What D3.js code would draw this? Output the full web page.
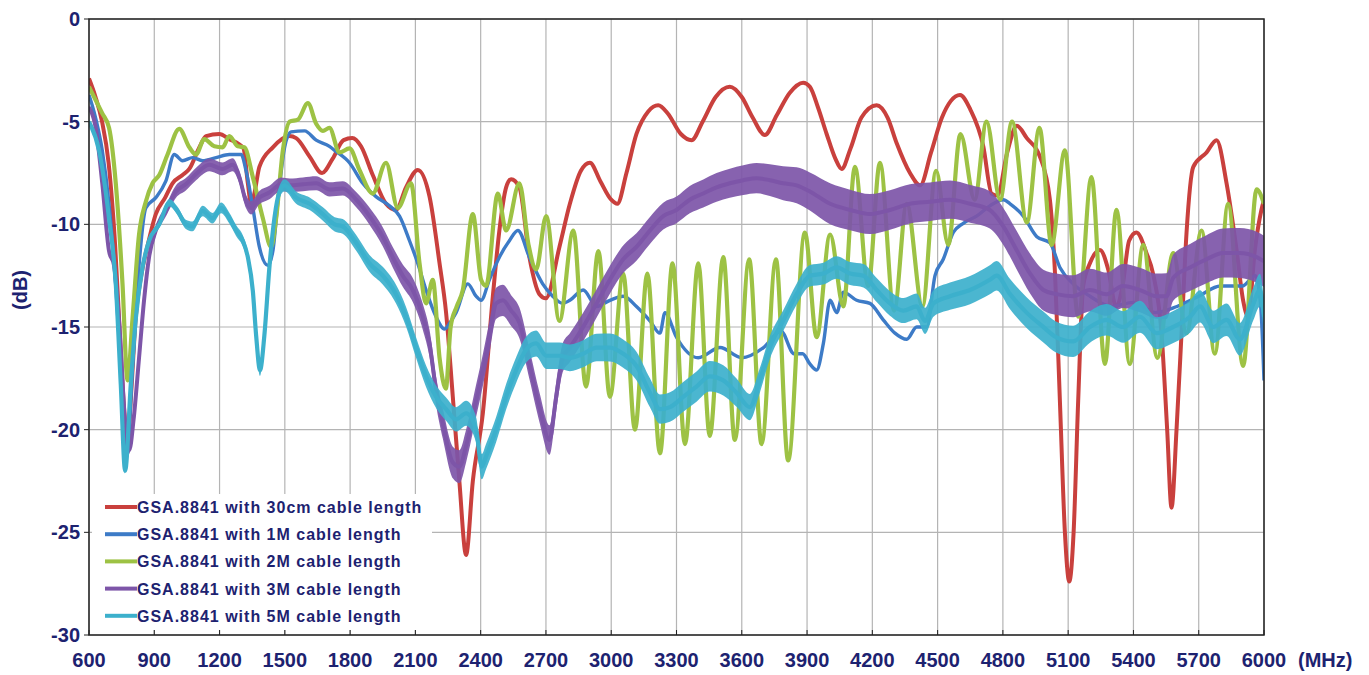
<!DOCTYPE html>
<html><head><meta charset="utf-8">
<script src="https://cdn.jsdelivr.net/npm/d3@7"></script>
<style>body{margin:0;background:#fff}svg{display:block}</style>
</head><body><svg id="c" width="1369" height="675"></svg>
<script>
// ---- data ----
const xTickLabels = [600,900,1200,1500,1800,2100,2400,2700,3000,3300,3600,3900,4200,4500,4800,5100,5400,5700,6000];
const yTickLabels = [0,-5,-10,-15,-20,-25,-30];
const seriesNames = ["GSA.8841 with 30cm cable length","GSA.8841 with 1M cable length","GSA.8841 with 2M cable length","GSA.8841 with 3M cable length","GSA.8841 with 5M cable length"];

const red30cm = [[600,-2.9],[630,-3.8],[660,-5.0],[690,-7.0],[720,-11],[745,-16],[765,-19.5],[778,-20.5],[795,-18],[815,-14.5],[840,-12.5],[870,-11],[907,-9.5],[950,-8.7],[984,-8.0],[1030,-7.6],[1061,-7.3],[1107,-6.25],[1138,-5.7],[1199,-5.6],[1245,-5.85],[1290,-6.1],[1310,-6.3],[1330,-8.0],[1345,-9.0],[1360,-8.5],[1383,-7.2],[1445,-6.25],[1521,-5.7],[1552,-5.8],[1614,-6.7],[1671,-7.5],[1720,-6.8],[1770,-5.9],[1810,-5.8],[1850,-6.2],[1904,-7.6],[1965,-9.0],[2011,-9.3],[2057,-8.2],[2111,-7.35],[2165,-8.65],[2211,-11.9],[2241,-14.3],[2272,-18.4],[2302,-22.5],[2333,-26.1],[2364,-22.5],[2410,-19.2],[2456,-13.5],[2486,-10.3],[2517,-8.2],[2540,-7.8],[2578,-8.2],[2624,-11.6],[2670,-13.4],[2700,-13.6],[2762,-11.1],[2810,-9.0],[2860,-7.4],[2902,-7.0],[2950,-7.9],[3000,-8.8],[3028,-9.0],[3070,-7.5],[3116,-5.6],[3170,-4.5],[3216,-4.2],[3260,-4.6],[3320,-5.6],[3369,-5.9],[3420,-5.0],[3480,-3.8],[3545,-3.3],[3600,-3.8],[3650,-4.8],[3706,-5.65],[3760,-4.7],[3820,-3.6],[3882,-3.1],[3913,-3.3],[3950,-4.3],[3990,-5.6],[4030,-6.8],[4059,-7.3],[4100,-6.3],[4150,-4.8],[4220,-4.2],[4270,-4.8],[4312,-6.05],[4373,-7.5],[4420,-8.1],[4470,-6.5],[4520,-4.8],[4560,-4.0],[4603,-3.7],[4650,-4.4],[4710,-6.2],[4748,-8.5],[4775,-8.6],[4820,-6.5],[4864,-5.2],[4910,-5.8],[4970,-6.7],[5016,-8.8],[5040,-12.5],[5062,-18.6],[5085,-25],[5105,-27.4],[5125,-25],[5146,-18.6],[5169,-13.0],[5200,-11.9],[5246,-11.25],[5284,-12.2],[5320,-14.0],[5350,-13.0],[5380,-10.8],[5414,-10.4],[5460,-11.4],[5490,-12.4],[5529,-15.3],[5555,-20],[5575,-23.8],[5598,-20],[5621,-15.3],[5644,-10.4],[5675,-7.2],[5736,-6.5],[5782,-5.9],[5828,-8.0],[5874,-11.25],[5904,-13.7],[5927,-14.5],[5958,-11.25],[5988,-9.3],[6000,-8.8]];

const blue1M = [[600,-3.7],[630,-4.8],[661,-6.4],[692,-9.0],[723,-13],[750,-17.5],[775,-21.0],[800,-17],[830,-12],[861,-9.2],[907,-8.7],[953,-7.9],[992,-6.6],[1030,-6.9],[1076,-6.75],[1122,-6.9],[1184,-6.75],[1245,-6.6],[1299,-6.6],[1322,-7.4],[1353,-9.2],[1383,-11.1],[1422,-12.0],[1445,-11.3],[1468,-8.9],[1499,-6.25],[1529,-5.5],[1591,-5.45],[1644,-5.9],[1705,-6.2],[1729,-6.4],[1797,-7.0],[1858,-8.0],[1919,-8.65],[1981,-9.1],[2027,-9.6],[2073,-10.8],[2111,-11.9],[2149,-13.2],[2195,-14.5],[2234,-15.1],[2264,-14.7],[2287,-14.3],[2341,-12.9],[2379,-13.5],[2402,-13.7],[2440,-12.7],[2486,-11.6],[2532,-10.8],[2571,-10.3],[2624,-11.6],[2685,-12.9],[2731,-13.5],[2777,-13.85],[2810,-13.7],[2871,-13.2],[2933,-14.0],[2994,-13.7],[3055,-13.5],[3116,-14.0],[3178,-14.7],[3224,-15.3],[3247,-14.3],[3300,-15.5],[3400,-16.5],[3500,-16.0],[3600,-16.5],[3700,-16.0],[3780,-15.2],[3840,-16.3],[3880,-16.3],[3913,-16.8],[3944,-17.1],[3975,-15.8],[4006,-13.7],[4036,-14.3],[4067,-13.3],[4128,-13.7],[4189,-13.85],[4250,-14.65],[4304,-15.3],[4358,-15.6],[4404,-15.0],[4450,-15.0],[4488,-12.5],[4526,-11.7],[4572,-10.4],[4618,-9.95],[4679,-9.6],[4740,-9.1],[4802,-8.8],[4833,-9.0],[4894,-9.6],[4956,-10.6],[5016,-10.9],[5062,-12.1],[5123,-12.9],[5200,-13.5],[5300,-14.0],[5400,-13.8],[5500,-14.3],[5600,-14.0],[5700,-13.5],[5800,-13.0],[5900,-13.0],[5960,-12.5],[5985,-14.0],[6000,-17.6]];

const green2M = [[600,-3.3],[661,-4.6],[692,-5.3],[723,-8.0],[754,-12.9],[777,-17.6],[800,-14.6],[830,-10.5],[861,-8.9],[892,-8.0],[923,-7.6],[961,-6.6],[1015,-5.35],[1061,-6.25],[1092,-6.6],[1130,-5.85],[1176,-6.2],[1214,-6.25],[1245,-5.7],[1284,-6.2],[1314,-6.25],[1353,-7.7],[1399,-9.7],[1437,-11.1],[1460,-9.7],[1491,-6.4],[1522,-5.0],[1560,-4.9],[1606,-4.1],[1644,-5.1],[1675,-5.45],[1705,-5.3],[1751,-6.5],[1797,-6.3],[1843,-7.35],[1904,-8.5],[1965,-7.0],[2019,-9.2],[2080,-8.0],[2119,-11.9],[2149,-13.85],[2180,-12.7],[2211,-16.5],[2240,-18.0],[2262,-15],[2290,-14.0],[2318,-13.2],[2364,-9.5],[2402,-12.7],[2425,-13.0],[2479,-8.5],[2517,-10.3],[2578,-8.0],[2620,-11.0],[2655,-12.2],[2701,-9.6],[2762,-14.7],[2826,-10.3],[2884,-17.9],[2941,-11.3],[2994,-18.4],[3055,-12.4],[3109,-20.0],[3166,-12.4],[3224,-21.15],[3282,-11.9],[3339,-20.7],[3400,-11.9],[3453,-20.3],[3515,-11.6],[3568,-20.5],[3634,-11.7],[3691,-20.7],[3757,-11.7],[3813,-21.5],[3890,-10.4],[3944,-15.5],[4006,-10.5],[4067,-14.0],[4120,-7.2],[4181,-13.0],[4235,-7.0],[4300,-14.2],[4358,-9.0],[4430,-14.0],[4493,-7.4],[4549,-11.0],[4605,-5.6],[4670,-8.8],[4725,-5.0],[4787,-8.8],[4842,-5.0],[4910,-9.9],[4968,-5.3],[5024,-11.0],[5085,-6.4],[5146,-14.5],[5207,-7.7],[5269,-16.8],[5322,-9.3],[5383,-16.8],[5445,-11.0],[5510,-16.5],[5583,-11.4],[5644,-15.3],[5713,-10.3],[5774,-16.3],[5835,-9.0],[5904,-16.9],[5966,-8.3],[6000,-9.0]];

const purple3M = [[600,-4.3],[631,-5.3],[661,-8.0],[692,-11.3],[715,-12.0],[740,-15],[765,-19.5],[785,-21],[805,-19.5],[830,-16.5],[853,-13.7],[876,-11.6],[907,-10.3],[953,-9.35],[1000,-8.4],[1045,-8.05],[1092,-7.55],[1153,-7.1],[1214,-7.3],[1260,-7.1],[1291,-7.7],[1322,-8.9],[1345,-9.2],[1383,-8.7],[1429,-8.45],[1483,-8.05],[1522,-8.1],[1583,-8.05],[1644,-8.0],[1706,-8.3],[1766,-8.25],[1828,-8.8],[1889,-9.6],[1950,-10.6],[1996,-11.6],[2042,-12.5],[2088,-13.2],[2134,-14.5],[2165,-15.8],[2195,-18.1],[2226,-19.7],[2272,-21.6],[2302,-21.8],[2333,-20.8],[2379,-18.6],[2410,-17.1],[2440,-15.5],[2471,-13.85],[2502,-13.7],[2540,-14.2],[2578,-14.8],[2624,-16.8],[2670,-18.9],[2716,-20.5],[2747,-18.4],[2777,-16.5],[2810,-16.0],[2871,-15.0],[2933,-13.85],[2994,-12.7],[3055,-11.7],[3116,-11.1],[3178,-10.3],[3239,-9.6],[3300,-9.3],[3361,-8.8],[3423,-8.5],[3484,-8.2],[3545,-8.0],[3607,-7.85],[3668,-7.75],[3729,-7.85],[3790,-8.0],[3852,-8.1],[3913,-8.4],[4006,-9.0],[4098,-9.3],[4189,-9.5],[4281,-9.3],[4373,-9.0],[4465,-8.9],[4557,-8.8],[4649,-9.0],[4740,-9.3],[4802,-10.1],[4863,-11.25],[4925,-12.4],[4986,-13.2],[5046,-13.4],[5123,-13.5],[5200,-13.2],[5276,-13.4],[5353,-13.0],[5430,-13.2],[5506,-13.5],[5552,-13.5],[5583,-12.6],[5660,-12.1],[5736,-11.7],[5812,-11.4],[5889,-11.4],[5966,-11.6],[6000,-11.8]];

const cyan5M = [[600,-5.0],[646,-6.4],[692,-9.7],[723,-12.9],[746,-17.8],[766,-22.0],[792,-17.8],[815,-14.6],[846,-12.1],[876,-10.8],[923,-10.0],[969,-8.95],[1007,-9.35],[1045,-10.0],[1076,-10.1],[1122,-9.35],[1168,-9.7],[1207,-9.2],[1245,-9.7],[1276,-10.3],[1307,-10.8],[1330,-11.6],[1353,-13.25],[1368,-15.4],[1386,-17.1],[1406,-15.4],[1429,-12.1],[1452,-9.7],[1476,-8.4],[1499,-8.1],[1552,-8.7],[1614,-9.0],[1675,-9.5],[1729,-10.0],[1766,-10.1],[1828,-10.9],[1889,-11.9],[1950,-12.5],[2011,-13.4],[2057,-14.5],[2103,-16.0],[2149,-17.4],[2195,-18.4],[2241,-19.0],[2287,-19.5],[2333,-19.2],[2379,-20.0],[2405,-21.8],[2425,-21.3],[2471,-20.0],[2517,-18.4],[2563,-17.1],[2609,-16.1],[2655,-15.8],[2701,-16.4],[2762,-16.4],[2810,-16.5],[2871,-16.3],[2933,-16.0],[2994,-16.0],[3055,-16.3],[3116,-16.9],[3178,-18.2],[3224,-19.0],[3270,-18.9],[3331,-18.4],[3392,-17.9],[3453,-17.4],[3515,-17.6],[3576,-18.2],[3637,-18.9],[3683,-17.6],[3729,-16.0],[3790,-14.7],[3852,-13.4],[3913,-12.5],[3975,-12.4],[4036,-12.1],[4098,-12.4],[4159,-12.5],[4220,-13.2],[4281,-13.85],[4343,-14.2],[4404,-14.0],[4442,-14.7],[4481,-13.85],[4557,-13.5],[4649,-13.2],[4740,-12.7],[4771,-12.5],[4833,-13.4],[4909,-14.3],[4986,-15.0],[5046,-15.5],[5123,-15.7],[5200,-15.0],[5276,-14.65],[5353,-15.0],[5430,-14.5],[5506,-15.3],[5583,-15.0],[5660,-14.5],[5706,-14.0],[5767,-15.0],[5828,-14.65],[5889,-15.6],[5950,-13.9],[5981,-13.2],[6000,-14.5]];

// peak-to-peak ripple (dB) of the fast oscillation on the 3M and 5M traces
const purpleRipple = [[600,0.2],[850,0.4],[1000,0.6],[1800,0.7],[2000,1.0],[2300,1.6],[2800,1.4],[3300,1.3],[3700,1.5],[4000,2.0],[4800,1.8],[5000,2.0],[5500,2.2],[6000,2.5]];
const cyanRipple = [[600,0.2],[900,0.3],[1100,0.5],[1600,0.6],[2000,0.9],[2300,1.2],[2800,1.3],[3500,1.5],[3800,1.0],[4300,1.2],[4900,1.5],[6000,1.6]];

const colors = ["#c9403d","#3d7bc7","#9dc244","#7d55a8","#3cb0cc"];

// ---- chart ----
const svg = d3.select("#c");
const W = 1369, H = 675;
const m = {l:89, r:1264, t:19, b:635};
const x = d3.scaleLinear().domain([600,6000]).range([m.l, m.r]);
const y = d3.scaleLinear().domain([-30,0]).range([m.b, m.t]);
const txtCol = "#1d2270";
const fontFam = "'Liberation Sans', Arial, sans-serif";

svg.append("rect").attr("width",W).attr("height",H).attr("fill","#fff");

// grid
const grid = svg.append("g");
grid.selectAll(".gx").data(xTickLabels).join("line")
  .attr("x1",d=>x(d)).attr("x2",d=>x(d)).attr("y1",m.t).attr("y2",m.b)
  .attr("stroke","#b4b4b4").attr("stroke-width",1.2);
grid.selectAll(".gy").data(yTickLabels).join("line")
  .attr("x1",m.l).attr("x2",m.r).attr("y1",d=>y(d)).attr("y2",d=>y(d))
  .attr("stroke","#b4b4b4").attr("stroke-width",1.2);

function interp(arr, f){
  for (let i=1;i<arr.length;i++){
    if (f<=arr[i][0]){const a=arr[i-1],b=arr[i];return a[1]+(b[1]-a[1])*(f-a[0])/(b[0]-a[0]);}
  }
  return arr[arr.length-1][1];
}

const clip = svg.append("clipPath").attr("id","pc").append("rect")
  .attr("x",m.l).attr("y",m.t).attr("width",m.r-m.l).attr("height",m.b-m.t);
const plot = svg.append("g").attr("clip-path","url(#pc)");
const line = d3.line().x(d=>x(d[0])).y(d=>y(d[1])).curve(d3.curveMonotoneX);
const band = (rip)=>d3.area().x(d=>x(d[0]))
  .y0(d=>y(d[1]-interp(rip,d[0])/2)).y1(d=>y(d[1]+interp(rip,d[0])/2)).curve(d3.curveMonotoneX);

const allSeries = [red30cm, blue1M, green2M, purple3M, cyan5M];
const widths = [4, 3.4, 4.2, 4, 4.2];
allSeries.forEach((s,i)=>{
  if (i===3) plot.append("path").datum(s).attr("d",band(purpleRipple)).attr("fill",colors[i]).attr("opacity",0.92);
  if (i===4) plot.append("path").datum(s).attr("d",band(cyanRipple)).attr("fill",colors[i]).attr("opacity",0.92);
  plot.append("path").datum(s).attr("d",line).attr("fill","none")
    .attr("stroke",colors[i]).attr("stroke-width",widths[i]).attr("stroke-linejoin","round");
});

// legend
const lg = svg.append("g");
lg.append("rect").attr("x",92).attr("y",494).attr("width",340).attr("height",136).attr("fill","#fff");
seriesNames.forEach((n,i)=>{
  const yy = 507 + i*27.2;
  lg.append("line").attr("x1",105).attr("x2",137).attr("y1",yy).attr("y2",yy)
    .attr("stroke",colors[i]).attr("stroke-width",4);
  lg.append("text").attr("x",137).attr("y",yy+6).text(n)
    .attr("font-family",fontFam).attr("font-weight","bold").attr("font-size",16)
    .attr("letter-spacing",1.0).attr("fill",txtCol);
});

// frame & ticks
svg.append("rect").attr("x",m.l).attr("y",m.t).attr("width",m.r-m.l).attr("height",m.b-m.t)
  .attr("fill","none").attr("stroke","#222").attr("stroke-width",1.5);
svg.selectAll(".tx").data(xTickLabels).join("line")
  .attr("x1",d=>x(d)).attr("x2",d=>x(d)).attr("y1",m.b-5).attr("y2",m.b).attr("stroke","#222");
svg.selectAll(".ty").data(yTickLabels).join("line")
  .attr("x1",m.l-5).attr("x2",m.l).attr("y1",d=>y(d)).attr("y2",d=>y(d)).attr("stroke","#222");

// axis labels
svg.selectAll(".lx").data(xTickLabels).join("text")
  .attr("x",d=>x(d)).attr("y",667).attr("text-anchor","middle").text(d=>d)
  .attr("font-family",fontFam).attr("font-weight","bold").attr("font-size",20).attr("fill",txtCol);
svg.append("text").attr("x",1298).attr("y",667).text("(MHz)")
  .attr("font-family",fontFam).attr("font-weight","bold").attr("font-size",20).attr("fill",txtCol);
svg.selectAll(".ly").data(yTickLabels).join("text")
  .attr("x",80).attr("y",d=>y(d)+7).attr("text-anchor","end").text(d=>d)
  .attr("font-family",fontFam).attr("font-weight","bold").attr("font-size",20).attr("fill",txtCol);
svg.append("text").attr("transform","translate(27,290) rotate(-90)").attr("text-anchor","middle").text("(dB)")
  .attr("font-family",fontFam).attr("font-weight","bold").attr("font-size",20).attr("fill",txtCol);
</script></body></html>
